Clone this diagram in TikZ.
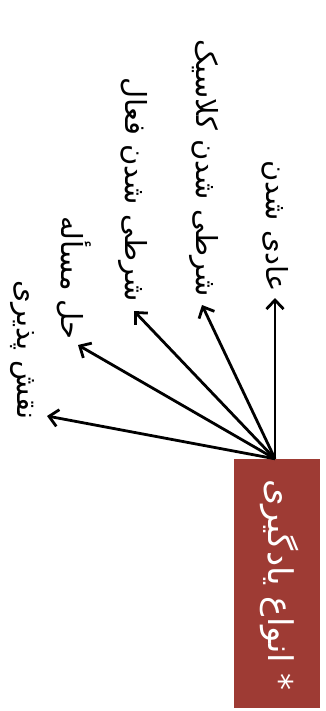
\documentclass[tikz,border=0pt]{standalone}
\usepackage{fontspec}
\newfontfamily\arabicfont[Script=Arabic]{DejaVu Sans}
\TeXXeTstate=1
\usetikzlibrary{arrows.meta}
\definecolor{boxred}{HTML}{9E3B34}
\tikzset{
  label/.style={rotate=-90, inner sep=0pt, font=\arabicfont\fontsize{29}{33}\selectfont},
  arr/.style={line width=2.8pt, -{Straight Barb[length=9pt,width=17pt,line width=2.8pt]}},
  redbox/.style={rotate=-90, fill=boxred, text=white, minimum width=249pt, minimum height=86pt, inner sep=0pt, font=\arabicfont\fontsize{34}{38}\selectfont}
}
\begin{document}
\begin{tikzpicture}[x=1pt,y=-1pt]
\useasboundingbox (0,0) rectangle (325,711);
\node[redbox] (box) at (277,583.5) {};
\node[rotate=-90, text=white, inner sep=0pt, font=\arabicfont\fontsize{34}{38}\selectfont] (boxtext) at (280,585) {\beginR * انواع یادگیری\endR};
\node[label, anchor=east] (t1) at (275,292) {\beginR عادی شدن\endR};
\node[label, anchor=east] (t2) at (204,297) {\beginR شرطی شدن کلاسیک\endR};
\node[label, anchor=east] (t3) at (133,302) {\beginR شرطی شدن فعال\endR};
\node[label, anchor=east] (t4) at (74,340) {\beginR حل مسأله\endR};
\node[label, anchor=east] (t5) at (22,420) {\beginR نقش پذیری\endR};
\coordinate (src) at ([xshift=-2pt]box.west);
\coordinate (p1) at (275,298);
\coordinate (p2) at (202,305);
\coordinate (p3) at (134,311);
\coordinate (p4) at (78,345);
\coordinate (p5) at (47,416);
\draw[arr] (src) -- (p1);
\draw[arr] (src) -- (p2);
\draw[arr] (src) -- (p3);
\draw[arr] (src) -- (p4);
\draw[arr] (src) -- (p5);
\end{tikzpicture}
\end{document}
